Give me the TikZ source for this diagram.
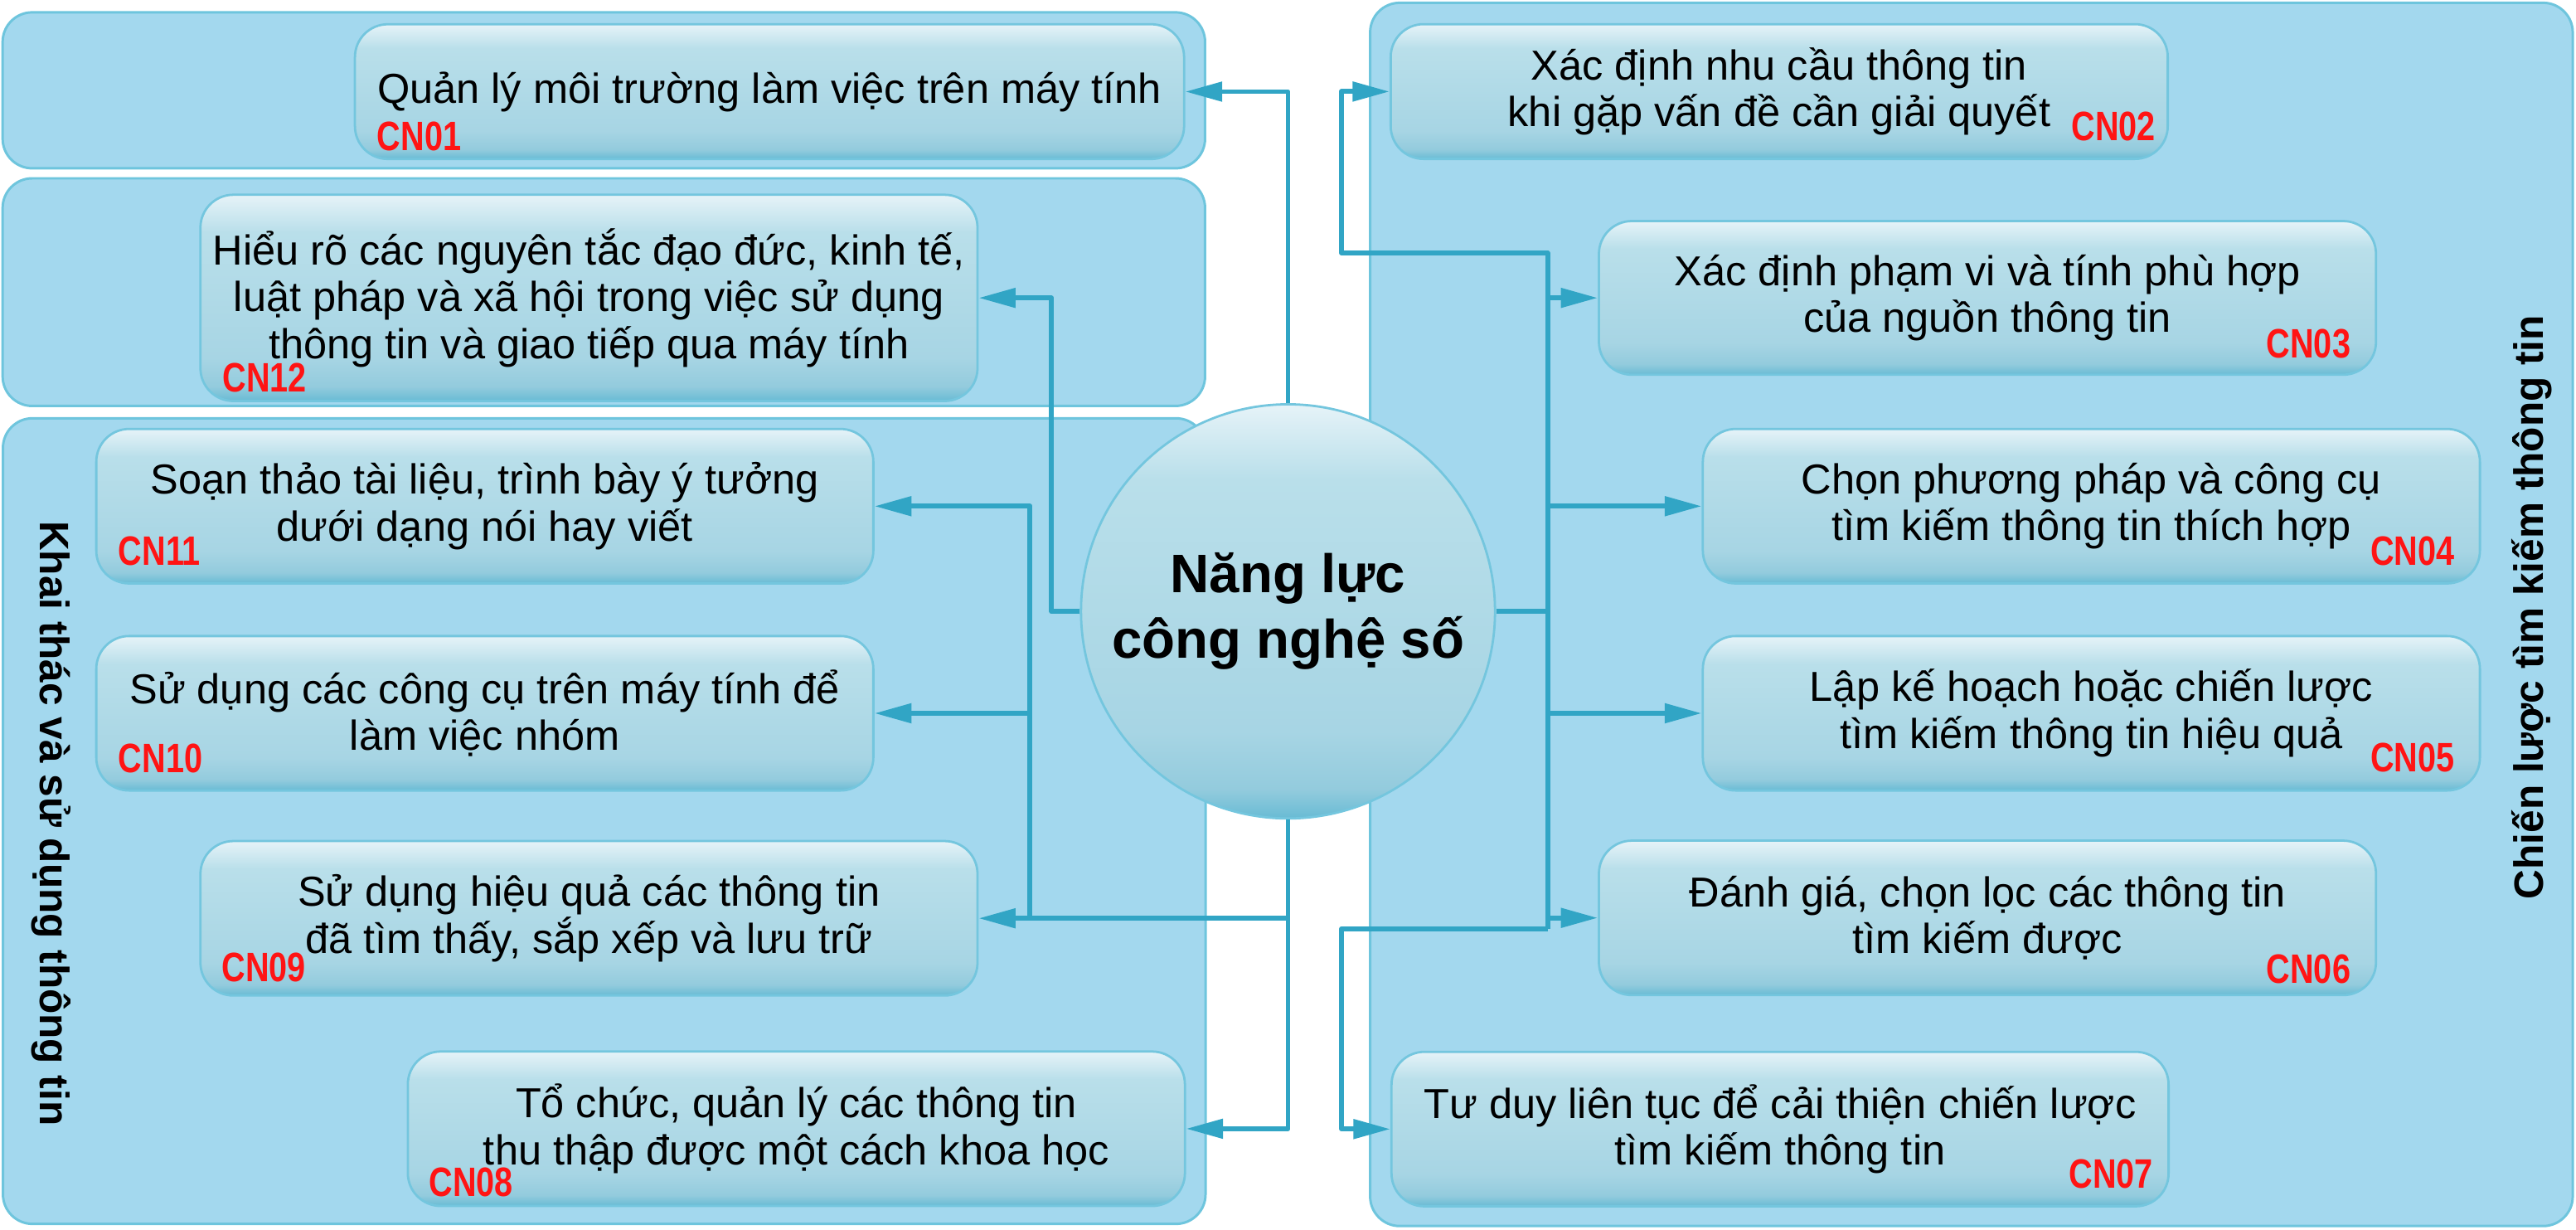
\documentclass[tikz,border=0pt]{standalone}
\usepackage{fontspec}
\setmainfont{Liberation Sans}
\newfontfamily\codefont[FakeStretch=0.8]{Liberation Sans}
\usetikzlibrary{arrows.meta}

\definecolor{panelfill}{HTML}{A3D8EE}
\definecolor{paneldraw}{HTML}{6EC5DD}
\definecolor{boxdraw}{HTML}{74C6DE}
\definecolor{linkblue}{HTML}{31A5C5}
\definecolor{codered}{HTML}{FF1414}
\definecolor{bxtop}{HTML}{E6F3F8}
\definecolor{bxhi}{HTML}{B9DFEA}
\definecolor{bxmid}{HTML}{A7D5E4}
\definecolor{bxlow}{HTML}{93CBDD}
\definecolor{bxbot}{HTML}{68BBD4}
\pgfdeclareverticalshading{boxshade}{100bp}{color(0bp)=(bxbot); color(25bp)=(bxbot); color(28.5bp)=(bxlow); color(35.5bp)=(bxmid); color(66bp)=(bxhi); color(75bp)=(bxtop); color(100bp)=(bxtop)}

\tikzset{
  panel/.style={fill=panelfill, draw=paneldraw, line width=1.5pt, rounded corners=18pt},
  cnbox/.style={draw=boxdraw, line width=1.4pt, shade, shading=boxshade, rounded corners=20pt,
    minimum width=473pt, minimum height=94pt, align=center, inner sep=0pt,
    font=\fontsize{25.5}{28.5}\selectfont},
  cncode/.style={text=codered, inner sep=0pt, font=\codefont\bfseries\fontsize{25}{25}\selectfont},
  hub/.style={circle, draw=boxdraw, line width=1.4pt, shade, shading=boxshade, minimum size=252pt,
    align=center, inner sep=0pt, font=\bfseries\fontsize{33}{40}\selectfont},
  sidetitle/.style={inner sep=0pt, font=\bfseries\fontsize{25}{25}\selectfont},
  wire/.style={draw=linkblue, line width=3pt, line join=round},
  link/.style={wire, -{Triangle[length=22.5pt,width=11.5pt]}}
}

\begin{document}
\begin{tikzpicture}[x=1pt,y=-1pt]
\useasboundingbox (0,0) rectangle (1568,748);
% group panels
\draw[panel] (1.6,7.5) rectangle (733.5,102.4);
\draw[panel] (1.6,108.5) rectangle (733.5,247);
\draw[panel] (1.8,254.5) rectangle (733.8,744.7);
\draw[panel] (834,1.7) rectangle (1566,746);
% centre
\node[hub] (core) at (784,372) {Năng lực\\công nghệ số};
% left side
\node[cnbox, minimum width=504.7pt, minimum height=82pt] (cn01) at (468.4,55.75) {Quản lý môi trường làm việc trên máy tính};
\node[cnbox, minimum height=125.5pt] (cn12) at (358.5,181.25) {Hiểu rõ các nguyên tắc đạo đức, kinh tế,\\luật pháp và xã hội trong việc sử dụng\\thông tin và giao tiếp qua máy tính};
\node[cnbox] (cn11) at (295.1,308) {Soạn thảo tài liệu, trình bày ý tưởng\\dưới dạng nói hay viết};
\node[cnbox] (cn10) at (295.1,434) {Sử dụng các công cụ trên máy tính để\\làm việc nhóm};
\node[cnbox] (cn09) at (358.5,558.75) {Sử dụng hiệu quả các thông tin\\đã tìm thấy, sắp xếp và lưu trữ};
\node[cnbox] (cn08) at (484.75,686.8) {Tổ chức, quản lý các thông tin\\thu thập được một cách khoa học};
% right side
\node[cnbox, minimum height=82pt] (cn02) at (1083,55.7) {Xác định nhu cầu thông tin\\khi gặp vấn đề cần giải quyết};
\node[cnbox, minimum height=93.5pt] (cn03) at (1209.75,181.25) {Xác định phạm vi và tính phù hợp\\của nguồn thông tin};
\node[cnbox] (cn04) at (1273,308) {Chọn phương pháp và công cụ\\tìm kiếm thông tin thích hợp};
\node[cnbox] (cn05) at (1273,434) {Lập kế hoạch hoặc chiến lược\\tìm kiếm thông tin hiệu quả};
\node[cnbox] (cn06) at (1209.75,558.5) {Đánh giá, chọn lọc các thông tin\\tìm kiếm được};
\node[cnbox] (cn07) at (1083.5,687) {Tư duy liên tục để cải thiện chiến lược\\tìm kiếm thông tin};
% codes
\node[cncode, anchor=base west] (c01) at ([xshift=14pt,yshift=5.8pt]cn01.south west) {CN01};
\node[cncode, anchor=base west] (c12) at ([xshift=14pt,yshift=6.3pt]cn12.south west) {CN12};
\node[cncode, anchor=base west] (c11) at ([xshift=14pt,yshift=12pt]cn11.south west) {CN11};
\node[cncode, anchor=base west] (c10) at ([xshift=14pt,yshift=11.4pt]cn10.south west) {CN10};
\node[cncode, anchor=base west] (c09) at ([xshift=13.6pt,yshift=9pt]cn09.south west) {CN09};
\node[cncode, anchor=base west] (c08) at ([xshift=13.5pt,yshift=6.4pt]cn08.south west) {CN08};
\node[cncode, anchor=base east] (c02) at ([xshift=-8pt,yshift=11.7pt]cn02.south east) {CN02};
\node[cncode, anchor=base east] (c03) at ([xshift=-16pt,yshift=11pt]cn03.south east) {CN03};
\node[cncode, anchor=base east] (c04) at ([xshift=-16pt,yshift=12pt]cn04.south east) {CN04};
\node[cncode, anchor=base east] (c05) at ([xshift=-16pt,yshift=12pt]cn05.south east) {CN05};
\node[cncode, anchor=base east] (c06) at ([xshift=-16pt,yshift=8pt]cn06.south east) {CN06};
\node[cncode, anchor=base east] (c07) at ([xshift=-10pt,yshift=12pt]cn07.south east) {CN07};
% group titles
\node[sidetitle, rotate=-90] (usetitle) at (31,501) {Khai thác và sử dụng thông tin};
\node[sidetitle, rotate=90] (findtitle) at (1541,369.5) {Chiến lược tìm kiếm thông tin};
% connectors
\coordinate (lbus) at (627,0);
\coordinate (lcut) at (640,0);
\coordinate (rbus) at (942,0);
\coordinate (rcut) at (816.6,0);
\coordinate (rtop) at (0,154);
\coordinate (rlow) at (0,565);
\draw[link] (core.north) |- (cn01.east);
\draw[link] (core.west) -- (lcut |- core.west) |- (cn12.east);
\draw[link] (lbus |- cn09.east) |- (cn11.east);
\draw[link] (lbus |- cn10.east) -- (cn10.east);
\draw[link] (core.south |- cn09.east) -- (cn09.east);
\draw[link] (core.south) |- (cn08.east);
\draw[wire] (core.east) -- (rbus |- core.east);
\draw[link] (rbus |- rlow) -- (rbus |- rtop) -- (rcut |- rtop) |- (cn02.west);
\draw[link] (rbus |- cn03.west) -- (cn03.west);
\draw[link] (rbus |- cn04.west) -- (cn04.west);
\draw[link] (rbus |- cn05.west) -- (cn05.west);
\draw[link] (rbus |- cn06.west) -- (cn06.west);
\draw[link] (rbus |- rlow) -- (rcut |- rlow) |- (cn07.west);
\end{tikzpicture}
\end{document}
